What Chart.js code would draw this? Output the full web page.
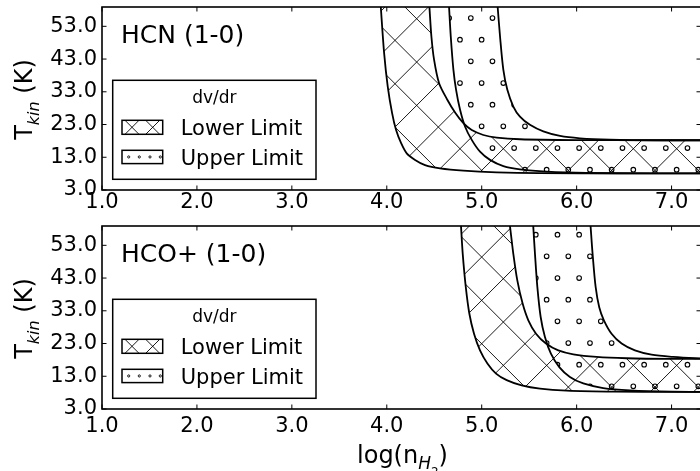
<!DOCTYPE html>
<html>
<head>
<meta charset="utf-8">
<script src="https://cdn.jsdelivr.net/npm/chart.js@4.4.1/dist/chart.umd.min.js"></script>
<style>
html, body { margin:0; padding:0; background:#fff; }
#wrap { position:relative; width:700px; height:471px; overflow:hidden; background:#fff; }
.pane { position:absolute; left:0; display:block; }
</style>
</head>
<body>
<div id="wrap">
  <canvas id="c1" class="pane" style="top:0px" width="704" height="215"></canvas>
  <canvas id="c2" class="pane" style="top:215px" width="704" height="256"></canvas>
</div>
<script>
// ---------------- data ----------------
const xTicks = [1, 2, 3, 4, 5, 6, 7];
const yTicks = [3, 13, 23, 33, 43, 53];
const xRange = [1, 7.31];
const yRange = [3, 58.9];
const panelLabels = ['HCN (1-0)', 'HCO+ (1-0)'];
const legendTitle = 'dv/dr';
const legendLabels = ['Lower Limit', 'Upper Limit'];

// HCN (1-0): boundary curves (log n_H2, T_kin) of each dv/dr region
const hcnLowerLeftX  = [3.90, 3.937, 3.972, 4.010, 4.056, 4.098, 4.151, 4.210, 4.298, 4.403, 4.561, 4.807, 5.158, 5.60, 6.50, 7.40, 7.60];
const hcnLowerLeftT  = [75, 58.9, 44.8, 34.6, 26.5, 21.3, 17.3, 14.2, 12.2, 10.6, 9.6, 8.9, 8.4, 8.15, 8.1, 8.1, 8.1];
const hcnLowerRightX = [4.41, 4.449, 4.470, 4.498, 4.551, 4.639, 4.723, 4.807, 4.895, 5.017, 5.158, 5.403, 6.00, 6.80, 7.40, 7.60];
const hcnLowerRightT = [75, 58.9, 49.9, 42.8, 35.6, 30.5, 26.5, 23.4, 21.3, 19.8, 19.0, 18.5, 18.25, 18.2, 18.2, 18.2];
const hcnUpperLeftX  = [4.624, 4.656, 4.674, 4.702, 4.730, 4.772, 4.824, 4.895, 4.982, 5.087, 5.228, 5.403, 5.684, 6.105, 6.80, 7.40, 7.60];
const hcnUpperLeftT  = [75, 58.9, 49.9, 39.7, 33.6, 27.5, 22.4, 18.3, 14.7, 12.2, 10.3, 9.3, 8.6, 8.2, 8.1, 8.1, 8.1];
const hcnUpperRightX = [5.123, 5.168, 5.193, 5.228, 5.270, 5.333, 5.403, 5.508, 5.649, 5.825, 6.035, 6.351, 6.90, 7.40, 7.60];
const hcnUpperRightT = [75, 58.9, 49.9, 39.7, 33.6, 28.5, 25.4, 22.9, 20.9, 19.5, 18.8, 18.4, 18.2, 18.2, 18.2];

// HCO+ (1-0)
const hcoLowerLeftX  = [4.748, 4.782, 4.800, 4.832, 4.870, 4.919, 4.982, 5.060, 5.151, 5.263, 5.421, 5.614, 5.895, 6.40, 7.00, 7.40, 7.60];
const hcoLowerLeftT  = [75, 58.8, 50.4, 40.3, 32.1, 26.0, 20.9, 16.9, 13.8, 11.8, 10.2, 9.2, 8.6, 8.3, 8.25, 8.25, 8.25];
const hcoLowerRightX = [5.23, 5.298, 5.333, 5.375, 5.431, 5.491, 5.572, 5.677, 5.807, 5.965, 6.211, 6.526, 7.00, 7.40, 7.60];
const hcoLowerRightT = [75, 58.8, 50.4, 42.3, 35.2, 30.1, 26.0, 23.0, 20.9, 19.7, 18.9, 18.5, 18.3, 18.3, 18.3];
const hcoUpperLeftX  = [5.509, 5.543, 5.561, 5.586, 5.621, 5.666, 5.729, 5.817, 5.929, 6.070, 6.280, 6.561, 7.00, 7.40, 7.60];
const hcoUpperLeftT  = [75, 58.8, 50.4, 40.3, 31.1, 25.0, 19.9, 15.8, 12.8, 10.8, 9.4, 8.7, 8.3, 8.25, 8.25];
const hcoUpperRightX = [6.107, 6.147, 6.168, 6.200, 6.238, 6.287, 6.368, 6.474, 6.614, 6.789, 7.017, 7.25, 7.40, 7.60];
const hcoUpperRightT = [75, 58.8, 50.4, 40.3, 34.1, 30.1, 26.0, 23.0, 20.9, 19.6, 18.9, 18.5, 18.4, 18.4];

// ---------------- helpers ----------------
const FONT = '"DejaVu Sans", "Liberation Sans", sans-serif';
function mod(a, m) { return ((a % m) + m) % m; }

// closed outline: left boundary forward, right boundary backward
function region(lx, lt, rx, rt) {
  const pts = lx.map((x, i) => ({ x: x, y: lt[i] }));
  for (let i = rx.length - 1; i >= 0; i--) pts.push({ x: rx[i], y: rt[i] });
  return pts;
}

// hatch patterns anchored to page coordinates
function crossPattern(ctx, offY) {
  const S = 130, P = S / 3;
  const c = document.createElement('canvas'); c.width = S; c.height = S;
  const g = c.getContext('2d');
  g.strokeStyle = '#000'; g.lineWidth = 0.9;
  const a = mod(35.4 - offY, P), b = mod(2.05 - offY, P);
  g.beginPath();
  for (let k = -5; k <= 5; k++) { g.moveTo(-30, -30 + a + k * P); g.lineTo(S + 30, S + 30 + a + k * P); }
  for (let k = -2; k <= 9; k++) { g.moveTo(-30, 30 + b + k * P); g.lineTo(S + 30, -S - 30 + b + k * P); }
  g.stroke();
  return ctx.createPattern(c, 'repeat');
}
function dotPattern(ctx, offY) {
  const S = 130, Q = S / 6;
  const c = document.createElement('canvas'); c.width = S; c.height = S;
  const g = c.getContext('2d');
  g.strokeStyle = '#000'; g.lineWidth = 1.1;
  for (let r = 0; r < 6; r++) {
    const v = mod(169.7 - offY + r * Q, S);
    const u0 = mod(568.3 + r * Q / 2, Q);
    for (let i = -1; i <= 7; i++) {
      const u = u0 + i * Q;
      for (const dv of [-S, 0, S]) {
        g.beginPath(); g.arc(u, v + dv, 2.3, 0, 2 * Math.PI); g.stroke();
      }
    }
  }
  return ctx.createPattern(c, 'repeat');
}

function makePlugins(panelIndex, showXLabel) {
  return [{
    id: 'frameTicks',
    afterDatasetsDraw(chart) {
      const { ctx, chartArea: a } = chart;
      const sx = chart.scales.x, sy = chart.scales.y;
      const L = 4.5;
      ctx.save();
      ctx.strokeStyle = '#000';
      ctx.lineWidth = 1;
      ctx.beginPath();
      xTicks.forEach(v => {
        const p = sx.getPixelForValue(v);
        ctx.moveTo(p, a.bottom); ctx.lineTo(p, a.bottom - L);
        ctx.moveTo(p, a.top); ctx.lineTo(p, a.top + L);
      });
      yTicks.forEach(v => {
        const p = sy.getPixelForValue(v);
        ctx.moveTo(a.left, p); ctx.lineTo(a.left + L, p);
        ctx.moveTo(a.right, p); ctx.lineTo(a.right - L, p);
      });
      ctx.stroke();
      ctx.lineWidth = 1.6;
      ctx.strokeRect(a.left, a.top, a.right - a.left, a.bottom - a.top);
      ctx.restore();
    },
    afterDraw(chart) {
      const { ctx, chartArea: a } = chart;
      ctx.save();
      ctx.fillStyle = '#000';
      ctx.textBaseline = 'alphabetic';
      // panel label
      ctx.font = '25px ' + FONT;
      ctx.textAlign = 'left';
      ctx.fillText(panelLabels[panelIndex], a.left + 19, a.top + 36.3);

      // legend
      const bx = a.left + 10.7, bw = 203.3, bh = 99, by = a.bottom - 10.7 - bh;
      ctx.fillStyle = '#fff';
      ctx.fillRect(bx, by, bw, bh);
      ctx.strokeStyle = '#000';
      ctx.lineWidth = 1.5;
      ctx.strokeRect(bx, by, bw, bh);
      ctx.fillStyle = '#000';
      ctx.font = '17px ' + FONT;
      ctx.textAlign = 'center';
      ctx.fillText(legendTitle, bx + bw / 2, by + 22.7);
      // handles
      const hx = bx + 9.3, hw = 40.7;
      const h1y = by + 40, h1h = 14;
      const h2y = by + 70, h2h = 13.3;
      ctx.save();
      ctx.beginPath(); ctx.rect(hx, h1y, hw, h1h); ctx.clip();
      ctx.lineWidth = 0.9;
      ctx.beginPath();
      const cy = h1y + h1h / 2;
      [hx + 10, hx + 30.7].forEach(cx => {
        ctx.moveTo(cx - 12, cy - 12); ctx.lineTo(cx + 12, cy + 12);
        ctx.moveTo(cx - 12, cy + 12); ctx.lineTo(cx + 12, cy - 12);
      });
      ctx.stroke();
      ctx.restore();
      ctx.lineWidth = 1.5;
      ctx.strokeRect(hx, h1y, hw, h1h);
      ctx.lineWidth = 0.9;
      const dy = h2y + h2h / 2;
      [6.7, 17.3, 28, 38.3].forEach(d => {
        ctx.beginPath(); ctx.arc(hx + d, dy, 1.1, 0, 2 * Math.PI); ctx.stroke();
      });
      ctx.lineWidth = 1.5;
      ctx.strokeRect(hx, h2y, hw, h2h);
      ctx.font = '21px ' + FONT;
      ctx.textAlign = 'left';
      ctx.fillText(legendLabels[0], bx + 68, by + 54.2);
      ctx.fillText(legendLabels[1], bx + 68, by + 84.2);

      // y axis label  T_kin (K)
      const big = '24px ' + FONT, sub = 'italic 16px ' + FONT;
      ctx.font = big; const wT = ctx.measureText('T').width;
      const wK = ctx.measureText(' (K)').width;
      ctx.font = sub; const wS = ctx.measureText('kin').width;
      const total = wT + wS + wK;
      const midY = (a.top + a.bottom) / 2 + 1;
      ctx.save();
      ctx.translate(31.5, midY + total / 2);
      ctx.rotate(-Math.PI / 2);
      ctx.textAlign = 'left';
      ctx.font = big; ctx.fillText('T', 0, 0);
      ctx.font = sub; ctx.fillText('kin', wT, 7);
      ctx.font = big; ctx.fillText(' (K)', wT + wS, 0);
      ctx.restore();

      // x axis label  log(n_H2)
      if (showXLabel) {
        const s1 = 'italic 17px ' + FONT, s2 = '12px ' + FONT;
        ctx.font = big; const w1 = ctx.measureText('log(n').width; const w4 = ctx.measureText(')').width;
        ctx.font = s1; const w2 = ctx.measureText('H').width;
        ctx.font = s2; const w3 = ctx.measureText('2').width;
        const tw = w1 + w2 + w3 + w4;
        let x0 = (a.left + a.right) / 2 - tw / 2 + 1;
        const base = a.bottom + 53.5;
        ctx.textAlign = 'left';
        ctx.font = big; ctx.fillText('log(n', x0, base); x0 += w1;
        ctx.font = s1; ctx.fillText('H', x0, base + 6); x0 += w2;
        ctx.font = s2; ctx.fillText('2', x0, base + 13); x0 += w3;
        ctx.font = big; ctx.fillText(')', x0, base);
      }
      ctx.restore();
    }
  }];
}

function buildPanel(canvasId, offY, padTop, axisH, xTickPad, panelIndex, regions, showXLabel) {
  const canvas = document.getElementById(canvasId);
  const ctx = canvas.getContext('2d');
  const fills = [crossPattern(ctx, offY), dotPattern(ctx, offY)];
  const datasets = regions.map((r, i) => ({
    label: legendLabels[i],
    data: region(r[0], r[1], r[2], r[3]),
    fill: 'shape',
    backgroundColor: fills[i],
    borderColor: '#000',
    borderWidth: 1.8,
    borderJoinStyle: 'round',
    pointRadius: 0,
    pointHoverRadius: 0,
    tension: 0.3
  }));
  return new Chart(ctx, {
    type: 'line',
    data: { datasets: datasets },
    options: {
      responsive: false,
      animation: false,
      devicePixelRatio: 1,
      events: [],
      layout: { padding: { top: padTop, right: 3, left: 0, bottom: 0 }, autoPadding: false },
      plugins: { legend: { display: false }, tooltip: { enabled: false } },
      scales: {
        x: {
          type: 'linear', min: xRange[0], max: xRange[1],
          grid: { display: false, drawTicks: false }, border: { display: false },
          afterBuildTicks: s => { s.ticks = xTicks.map(v => ({ value: v })); },
          afterFit: s => { s.height = axisH; s.paddingLeft = 0; s.paddingRight = 0; },
          ticks: {
            color: '#000', padding: xTickPad, maxRotation: 0, autoSkip: false,
            font: { family: FONT, size: 21, lineHeight: 1 },
            callback: v => Number(v).toFixed(1)
          }
        },
        y: {
          type: 'linear', min: yRange[0], max: yRange[1],
          grid: { display: false, drawTicks: false }, border: { display: false },
          afterBuildTicks: s => { s.ticks = yTicks.map(v => ({ value: v })); },
          afterFit: s => { s.width = 102; s.paddingTop = 0; s.paddingBottom = 0; },
          ticks: {
            color: '#000', padding: 5, autoSkip: false,
            font: { family: FONT, size: 21, lineHeight: 1 },
            callback: v => Number(v).toFixed(1)
          }
        }
      }
    },
    plugins: makePlugins(panelIndex, showXLabel)
  });
}

buildPanel('c1', 0, 7, 25, 2, 0, [
  [hcnLowerLeftX, hcnLowerLeftT, hcnLowerRightX, hcnLowerRightT],
  [hcnUpperLeftX, hcnUpperLeftT, hcnUpperRightX, hcnUpperRightT]
], false);
buildPanel('c2', 215, 11, 62, 7, 1, [
  [hcoLowerLeftX, hcoLowerLeftT, hcoLowerRightX, hcoLowerRightT],
  [hcoUpperLeftX, hcoUpperLeftT, hcoUpperRightX, hcoUpperRightT]
], true);
</script>
</body>
</html>
